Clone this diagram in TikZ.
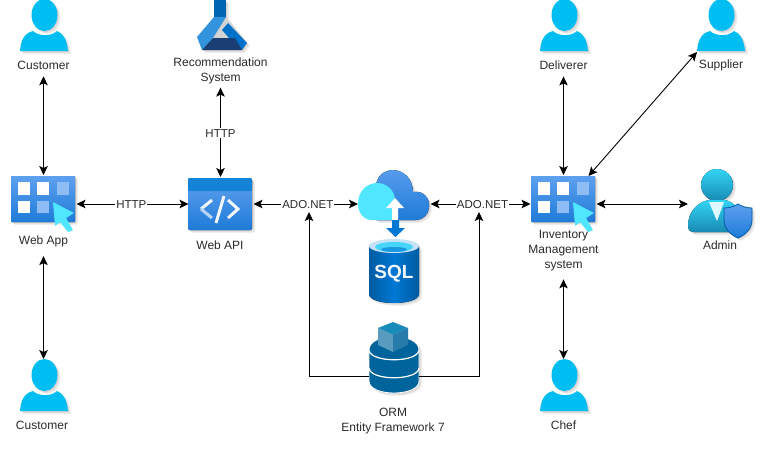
\documentclass[tikz,border=0pt]{standalone}
\usepackage{fontspec}
\setmainfont{Liberation Sans}
\usetikzlibrary{arrows.meta,calc}
\definecolor{persona}{HTML}{00BEF2}
\definecolor{azlight}{HTML}{5EA0EF}
\definecolor{azdark}{HTML}{1E7BD8}
\definecolor{azcyan}{HTML}{50E6FF}
\definecolor{sqlblue}{HTML}{0078D4}
\definecolor{sqldark}{HTML}{005BA1}
\definecolor{ormblue}{HTML}{00649C}
\definecolor{txtgray}{HTML}{2A2A2A}
\definecolor{recnavy}{HTML}{1A3F75}
\definecolor{admtop}{HTML}{32D4F5}
\definecolor{admbot}{HTML}{198AB3}
\tikzset{
  box/.style={inner sep=0,outer sep=0,minimum width=#1},
  lbl/.style={font=\fontsize{12}{15}\selectfont,text=txtgray,align=center,inner sep=0,outer sep=0},
  conn/.style={draw=black,line width=0.9pt,{Stealth[length=9pt,width=8.5pt,inset=2pt]}-{Stealth[length=9pt,width=8.5pt,inset=2pt]}},
  conn1/.style={draw=black,line width=0.9pt,-{Stealth[length=9pt,width=8.5pt,inset=2pt]}},
  elbl/.style={font=\fontsize{11.5}{13}\selectfont,text=txtgray,fill=white,inner sep=1pt,yshift=-1pt},
  grad/.style={top color=azlight,bottom color=azdark,draw=none},
}
\newcommand{\shadowed}[1]{\foreach \d in {1,2,3}{\fill[black,opacity=.06,shift={(\d,\d)}] #1;}}
\newcommand{\personshape}[2]{%
  \begin{scope}[shift={(#1,#2)}]
    \shadowed{(24.5,15) ellipse [x radius=13,y radius=16]}
    \shadowed{(0,51) .. controls (1,39) and (5,33) .. (13,31) .. controls (18,36) and (31,37) .. (37,31) .. controls (43,33) and (47,40) .. (48,51) -- cycle}
    \fill[persona] (24.5,15) ellipse [x radius=13,y radius=16];
    \fill[persona] (0,51) .. controls (1,39) and (5,33) .. (13,31) .. controls (18,36) and (31,37) .. (37,31) .. controls (43,33) and (47,40) .. (48,51) -- cycle;
  \end{scope}}
\newcommand{\appshape}[2]{%
  \begin{scope}[shift={(#1,#2)}]
    \shadowed{[rounded corners=1pt] (0,0) rectangle (64,46)}
    \fill[grad,rounded corners=1pt] (0,0) rectangle (64,46);
    \fill[white] (7,6) rectangle (19,19);
    \fill[white] (26,6) rectangle (38,19);
    \fill[azlight!70!white] (46,6) rectangle (58,19);
    \fill[white] (7,25) rectangle (19,37);
    \fill[azlight!70!white] (26,25) rectangle (38,37);
    \fill[azcyan,rounded corners=0.6pt] (42,26) -- (63,37) -- (55,42) -- (62,54) -- (57,56) -- (49,46) -- (44,50) -- cycle;
  \end{scope}}
\begin{document}
\begin{tikzpicture}[x=1pt,y=-1pt]
\useasboundingbox (0,0) rectangle (767,453);
\fill[white] (0,0) rectangle (767,453);

% persons
\personshape{20}{0}
\personshape{20}{360}
\personshape{540}{0}
\personshape{540}{360}
\personshape{697}{0}
\node[box=48,minimum height=52] (cust1) at (43.5,26) {};
\node[box=48,minimum height=52] (cust2) at (43.5,386) {};
\node[box=48,minimum height=52] (deliv) at (563.5,26) {};
\node[box=48,minimum height=52] (chef) at (563.5,386) {};
\node[box=48,minimum height=52] (suppl) at (721,26) {};
\node[lbl] (lcust1) at (43.5,65) {Customer};
\node[lbl] (lcust2) at (42,425) {Customer};
\node[lbl] (ldeliv) at (563.5,65) {Deliverer};
\node[lbl] (lchef) at (563.5,425) {Chef};
\node[lbl] (lsuppl) at (721,65) {Supplier};

% web app
\appshape{11}{176}
\node[box=64,minimum height=56] (webapp) at (43.5,204) {};
\node[lbl] (lwebapp) at (43.5,241.5) {Web App};

% web api
\shadowed{[rounded corners=2pt] (188,178) rectangle (252,230)}
\fill[grad,rounded corners=2pt] (188,178) rectangle (252,230);
\fill[sqlblue!92!white,rounded corners=2pt] (188,178) rectangle (252,191);
\fill[sqlblue!92!white] (188,185) rectangle (252,191);
\draw[white!92!azlight,line width=3pt] (212,200) -- (201,209);
\draw[white!55!azlight,line width=3pt] (201,209) -- (212,218);
\draw[white!92!azlight,line width=3pt] (224,196) -- (216,223);
\draw[white!92!azlight,line width=3pt] (228,200) -- (238,209) -- (228,218);
\node[box=64,minimum height=52] (webapi) at (220.5,204) {};
\node[lbl] (lwebapi) at (220,245.5) {Web API};

% recommendation system
\shadowed{(214,0) -- (226,0) -- (226,17) -- (247,43) -- (242,50) -- (202,50) -- (197,37) -- (214,17) -- cycle}
\fill[sqlblue!85!black] (214,0) rectangle (226,17.5);
\fill[sqlblue!80!white] (214,17) -- (226,17) -- (213,38) -- (202,50) -- (197,37) -- cycle;
\fill[sqlblue!95!black] (228,23) -- (247,43) -- (242,50) -- (229,38) -- (222,30) -- cycle;
\fill[recnavy] (213,38) -- (235,38) -- (242,50) -- (202,50) -- cycle;
\node[box=48,minimum height=50] (recsys) at (221,25) {};
\node[lbl] (lrecsys) at (220.5,71) {Recommendation\\System};

% cloud
\shadowed{(376,220) -- (376,188) .. controls (375,164) and (412,163) .. (413,192) .. controls (424,190) and (430,199) .. (429,207) .. controls (429,214) and (423,220) .. (416,220) -- cycle}
\fill[grad] (376,220) -- (376,188) .. controls (375,164) and (412,163) .. (413,192) .. controls (424,190) and (430,199) .. (429,207) .. controls (429,214) and (423,220) .. (416,220) -- cycle;
\fill[azcyan] (372,220) .. controls (364,220) and (358,213) .. (358,204) .. controls (358,190) and (368,183) .. (377,183) .. controls (387,183) and (395,191) .. (395,200) -- (395,220) -- cycle;
\fill[white] (392,220) -- (392,208) -- (386,208) -- (395,198) -- (404,208) -- (398,208) -- (398,220) -- cycle;
\node[box=71,minimum height=68] (cloud) at (393.5,204) {};

% sql
\fill[sqlblue] (392,220) -- (399,220) -- (399,228) -- (405,228) -- (395.5,237) -- (386,228) -- (392,228) -- cycle;
\shadowed{(369,246) -- (369,294) .. controls (369,306) and (419,306) .. (419,294) -- (419,246) -- cycle}
\fill[left color=sqldark,right color=sqldark,middle color=sqlblue] (369,246) -- (369,294) .. controls (369,306) and (419,306) .. (419,294) -- (419,246) -- cycle;
\fill[white!78!sqlblue] (394,246) ellipse [x radius=25,y radius=7];
\fill[azcyan!85!sqlblue] (394,247) ellipse [x radius=19,y radius=5];
\fill[sqlblue!70!azcyan] (394,249.5) ellipse [x radius=13,y radius=2.5];
\node[font=\fontsize{19}{20}\bfseries\selectfont,text=white!93!azlight,inner sep=0] (sql) at (394,274) {SQL};

% ORM
\shadowed{(369,350) -- (369,381) .. controls (369,397) and (419,397) .. (419,381) -- (419,350) .. controls (419,332) and (369,332) .. (369,350) -- cycle}
\fill[ormblue,draw=white,line width=0.8pt] (369,350) -- (369,381) .. controls (369,397) and (419,397) .. (419,381) -- (419,350) .. controls (419,332) and (369,332) .. (369,350) -- cycle;
\draw[white,line width=1.2pt] (369,350) .. controls (370,363) and (418,363) .. (419,350);
\draw[white,line width=1.2pt] (369,368) .. controls (370,381) and (418,381) .. (419,368);
\fill[ormblue!70!azcyan] (393,322) -- (408,328) -- (393,335) -- (378,328) -- cycle;
\fill[ormblue!65!white] (378,328) -- (393,335) -- (393,352) -- (378,345) -- cycle;
\fill[ormblue!85!white] (408,328) -- (393,335) -- (393,352) -- (408,345) -- cycle;
\node[box=50,minimum height=108] (orm) at (394,376) {};
\node[lbl] (lorm) at (393,421) {ORM\\Entity Framework 7};
\coordinate (busL) at (309,212);
\coordinate (busR) at (479,212);

% inventory
\appshape{531}{176}
\node[box=64,minimum height=56] (inv) at (563.5,204) {};
\node[lbl] (linv) at (563.5,251) {Inventory\\Management\\system};

% admin
\shadowed{(717,185) circle [radius=16]}
\shadowed{(688,226) .. controls (688,212) and (697,202) .. (709,200) -- (725,200) .. controls (735,202) and (741,210) .. (742,232) -- (694,232) .. controls (690,232) and (688,230) .. (688,226) -- cycle}
\fill[top color=admtop,bottom color=admbot] (717,185) circle [radius=16];
\fill[top color=admtop,bottom color=admbot] (688,226) .. controls (688,212) and (697,202) .. (709,200) -- (725,200) .. controls (735,202) and (741,210) .. (742,232) -- (694,232) .. controls (690,232) and (688,230) .. (688,226) -- cycle;
\fill[white!80!azcyan] (709,202) -- (724,202) -- (717,221) -- cycle;
\shadowed{(724,208) .. controls (730,208) and (735,206) .. (738,204) .. controls (741,206) and (746,208) .. (752,208) -- (752,220) .. controls (752,229) and (745,235) .. (738,238) .. controls (731,235) and (724,229) .. (724,220) -- cycle}
\draw[draw=sqldark,line width=0.8pt,top color=azlight,bottom color=azdark] (724,208) .. controls (730,208) and (735,206) .. (738,204) .. controls (741,206) and (746,208) .. (752,208) -- (752,220) .. controls (752,229) and (745,235) .. (738,238) .. controls (731,235) and (724,229) .. (724,220) -- cycle;
\node[box=64,minimum height=68] (admin) at (720,204) {};
\node[lbl] (ladmin) at (720,245) {Admin};

% connectors
\draw[conn1] (orm.west) -| (busL);
\draw[conn1] (orm.east) -| (busR);
\draw[conn] ($(lcust1.south)+(0,7)$) -- ($(webapp.north)+(0,-1)$);
\draw[conn] ($(lwebapp.south)+(0,9)$) -- ($(cust2.north)+(0,-1)$);
\draw[conn] ($(webapp.east)+(1,0)$) -- (webapi.west) node[elbl,pos=.49] (h1) {HTTP};
\draw[conn] ($(lrecsys.south)+(0,3.5)$) -- ($(webapi.north)+(0,-1)$) node[elbl,midway] (h2) {HTTP};
\draw[conn] ($(webapi.east)+(1,0)$) -- (cloud.west) node[elbl,pos=.52] (a1) {ADO.NET};
\draw[conn] ($(cloud.east)+(1.5,0)$) -- ($(inv.west)+(-1,0)$) node[elbl,pos=.52] (a2) {ADO.NET};
\draw[conn] ($(ldeliv.south)+(0,7)$) -- ($(inv.north)+(0,-1)$);
\draw[conn] ($(linv.south)+(0,8)$) -- ($(chef.north)+(0,-1)$);
\draw[conn] ($(inv.east)+(1,0)$) -- (admin.west);
\draw[conn] (suppl.south west) -- ($(inv.north east)+(-7,0)$);
\end{tikzpicture}
\end{document}
